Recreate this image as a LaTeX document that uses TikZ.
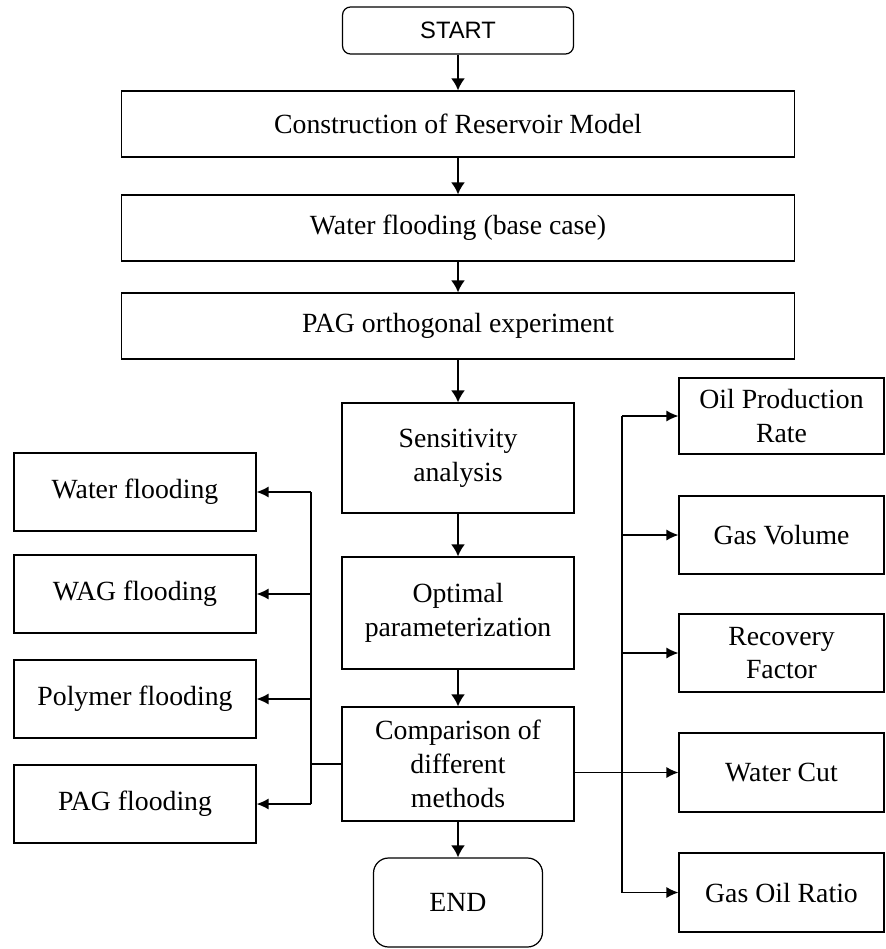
\documentclass[tikz,border=0pt]{standalone}
\usepackage{fontspec}
\setmainfont{Liberation Serif}
\newfontfamily\termfont{Liberation Sans}
\usetikzlibrary{arrows.meta}
\tikzset{
  box/.style={draw, line width=0.7pt, align=center, inner sep=0pt,
    font=\fontsize{15.8}{19.3}\selectfont},
  flow/.style={-{Latex[length=2.4mm,width=2.8mm]}, line width=1.1pt},
  link/.style={-{Latex[length=2.4mm,width=2.2mm]}, line width=0.7pt}
}

\begin{document}
\begin{tikzpicture}[x=0.02cm,y=-0.02cm]
  \useasboundingbox (0,0) rectangle (885,949);

  % Main column
  \node[box, rounded corners=0.16cm, minimum width=4.62cm, minimum height=0.94cm,
    font=\termfont\fontsize{13.5}{16}\selectfont] (start) at (458,30.5) {START};
  \node[box, minimum width=13.46cm, minimum height=1.32cm] (model) at (458,124) {Construction of Reservoir Model};
  \node[box, minimum width=13.46cm, minimum height=1.32cm] (base) at (458,228) {Water flooding (base case)};
  \node[box, minimum width=13.46cm, minimum height=1.32cm] (ortho) at (458,326) {PAG orthogonal experiment};
  \node[box, minimum width=4.64cm, minimum height=2.2cm] (sens) at (458,458) {Sensitivity\\analysis};
  \node[box, minimum width=4.64cm, minimum height=2.24cm] (optim) at (458,613) {Optimal\\parameterization};
  \node[box, minimum width=4.64cm, minimum height=2.28cm] (compare) at (458,764) {Comparison of\\different\\methods};
  \node[box, rounded corners=0.3cm, minimum width=3.38cm, minimum height=1.78cm] (end) at (458,902.5) {END};

  % Methods (left)
  \node[box, minimum width=4.84cm, minimum height=1.56cm] (water) at (135,492) {Water flooding};
  \node[box, minimum width=4.84cm, minimum height=1.56cm] (wag) at (135,594) {WAG flooding};
  \node[box, minimum width=4.84cm, minimum height=1.56cm] (polymer) at (135,699) {Polymer flooding};
  \node[box, minimum width=4.84cm, minimum height=1.56cm] (pag) at (135,804) {PAG flooding};

  % Indicators (right)
  \node[box, minimum width=4.1cm, minimum height=1.52cm] (oil) at (781.5,416) {Oil Production\\Rate};
  \node[box, minimum width=4.1cm, minimum height=1.56cm] (gas) at (781.5,535) {Gas Volume};
  \node[box, minimum width=4.1cm, minimum height=1.56cm] (recov) at (781.5,653) {Recovery\\Factor};
  \node[box, minimum width=4.1cm, minimum height=1.58cm] (wcut) at (781.5,772.5) {Water Cut};
  \node[box, minimum width=4.1cm, minimum height=1.58cm] (gor) at (781.5,892.5) {Gas Oil Ratio};

  % Main flow
  \draw[flow] (start) -- (model);
  \draw[flow] (model) -- (base);
  \draw[flow] (base) -- (ortho);
  \draw[flow] (ortho) -- (sens);
  \draw[flow] (sens) -- (optim);
  \draw[flow] (optim) -- (compare);
  \draw[flow] (compare) -- (end);

  % Left branch
  \coordinate (lbus) at (311,764);
  \draw[line width=0.7pt] (compare.west) -- (lbus);
  \draw[line width=0.7pt] (lbus |- water.east) -- (lbus |- pag.east);
  \foreach \m in {water,wag,polymer,pag}
    \draw[link] (lbus |- \m.east) -- (\m.east);

  % Right branch
  \coordinate (rbus) at (622,764);
  \draw[line width=0.7pt] (rbus |- oil.west) -- (rbus |- gor.west);
  \foreach \m in {oil,gas,recov,gor}
    \draw[link] (rbus |- \m.west) -- (\m.west);
  \draw[link] (compare.east |- wcut.west) -- (wcut.west);
\end{tikzpicture}
\end{document}
